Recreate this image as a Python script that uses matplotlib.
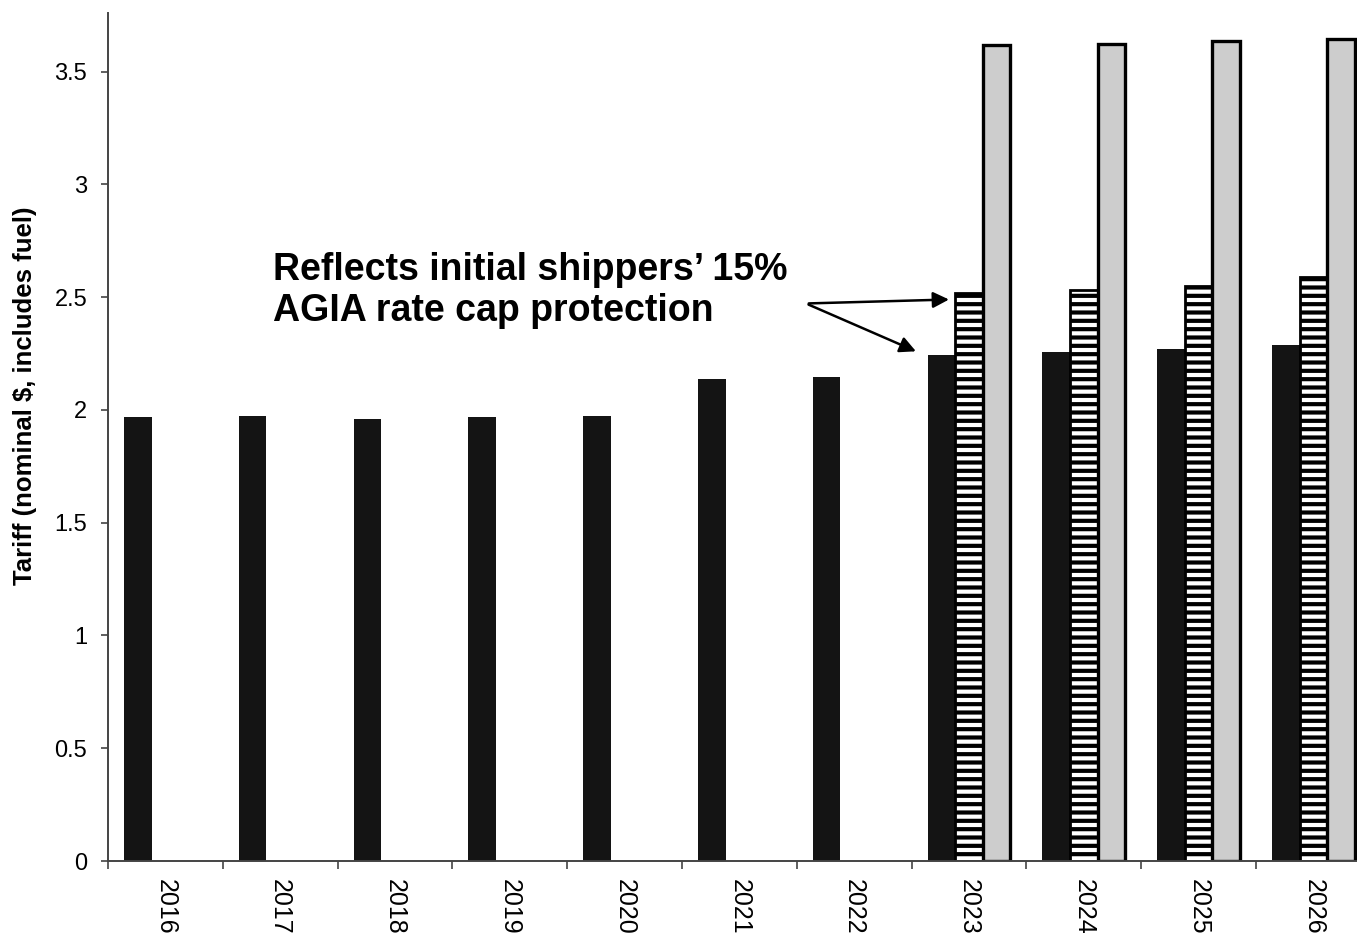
import matplotlib
matplotlib.use("Agg")
import matplotlib.pyplot as plt
import numpy as np

plt.rcParams['font.family'] = ['Liberation Sans', 'DejaVu Sans']
plt.rcParams['hatch.linewidth'] = 3.0

years = ['2016', '2017', '2018', '2019', '2020', '2021', '2022',
         '2023', '2024', '2025', '2026']
base_tariff = [1.97, 1.975, 1.96, 1.967, 1.975, 2.137, 2.145,
               2.245, 2.257, 2.268, 2.286]
cap_years = ['2023', '2024', '2025', '2026']
capped_tariff = [2.518, 2.533, 2.549, 2.589]
uncapped_tariff = [3.618, 3.623, 3.634, 3.645]
note_lines = ['Reflects initial shippers\u2019 15%', 'AGIA rate cap protection']

W, H = 1357, 938
fig = plt.figure(figsize=(W / 100, H / 100), dpi=100)
ax = fig.add_axes([108 / W, 77 / H, 11 * 114.8 / W, (861 - 13) / H])

x = np.arange(len(years))
xc = np.array([years.index(y) for y in cap_years])
bw = 0.24

ax.bar(x - bw, base_tariff, width=bw, color='#141414', edgecolor='none', zorder=2)
ax.bar(xc, capped_tariff, width=bw, color='white', edgecolor='black',
       hatch='--', linewidth=2.0, zorder=2)
ax.bar(xc + bw, uncapped_tariff, width=bw, color='#cdcdcd', edgecolor='black',
       linewidth=2.4, zorder=2)

ax.set_xlim(-0.5, len(years) - 0.5)
ax.set_ylim(0, 3.76)
ax.set_yticks(np.arange(0, 3.51, 0.5))
ax.set_yticklabels(['0', '0.5', '1', '1.5', '2', '2.5', '3', '3.5'])
ax.set_xticks(x)
ax.set_xticklabels(years, rotation=-90, va='top', ha='center')
ax.set_xticks(np.arange(-0.5, len(years)), minor=True)
ax.tick_params(axis='x', which='major', length=0, pad=13, labelsize=18)
ax.tick_params(axis='x', which='minor', length=6, width=1.2, color='#444444', direction='out')
ax.tick_params(axis='y', length=5, width=1.2, color='#444444', direction='out',
               pad=10, labelsize=17)

for s in ('top', 'right'):
    ax.spines[s].set_visible(False)
for s in ('left', 'bottom'):
    ax.spines[s].set_color('#444444')
    ax.spines[s].set_linewidth(1.4)

fig.text(25 / W, 1 - 396 / H, 'Tariff (nominal $, includes fuel)', rotation=90,
         ha='center', va='center', fontsize=18.5, fontweight='bold')

for line, base_y in zip(note_lines, (280, 321)):
    fig.text(273 / W, 1 - base_y / H, line, ha='left', va='baseline',
             fontsize=27, fontweight='bold')

start = (5.58, 2.472)
ax.annotate('', xy=(xc[0] - bw / 2 - 0.03, 2.49), xytext=start,
            arrowprops=dict(arrowstyle='-|>', color='black', lw=1.8, mutation_scale=24))
ax.annotate('', xy=(xc[0] - 1.5 * bw - 0.08, 2.255), xytext=start,
            arrowprops=dict(arrowstyle='-|>', color='black', lw=1.8, mutation_scale=24))

fig.savefig('out.png', dpi=100)
